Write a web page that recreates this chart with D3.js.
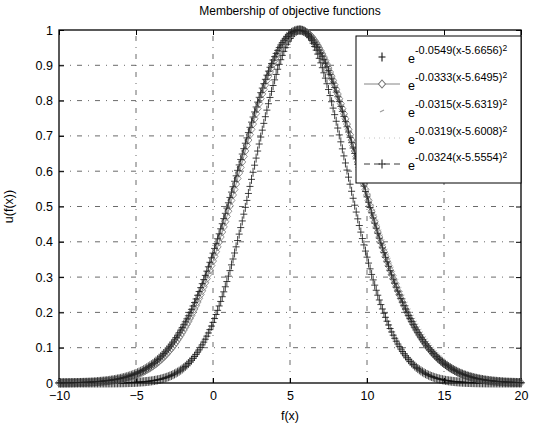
<!DOCTYPE html>
<html>
<head>
<meta charset="utf-8">
<script src="https://cdn.jsdelivr.net/npm/d3@7"></script>
<style>
  body { margin: 0; background: #fff; }
  text { font-family: "Liberation Sans", Arial, sans-serif; }
</style>
</head>
<body>
<div id="chart"></div>
<script>
// legend coefficients: y = exp(-a (x - b)^2)
const rates = [0.0549, 0.0333, 0.0315, 0.0319, 0.0324];
const centers = [5.6656, 5.6495, 5.6319, 5.6008, 5.5554];
const rateLabels = ["-0.0549", "-0.0333", "-0.0315", "-0.0319", "-0.0324"];
const centerLabels = ["5.6656", "5.6495", "5.6319", "5.6008", "5.5554"];
const xTicks = [-10, -5, 0, 5, 10, 15, 20];
const yTicks = [0, 0.1, 0.2, 0.3, 0.4, 0.5, 0.6, 0.7, 0.8, 0.9, 1];
const xs = d3.range(-10, 20.001, 0.1);

const width = 535, height = 426;
const margin = {top: 30, right: 14, bottom: 43, left: 59};

const svg = d3.select("#chart").append("svg")
    .attr("width", width)
    .attr("height", height);

const x = d3.scaleLinear().domain([-10, 20]).range([margin.left, width - margin.right]);
const y = d3.scaleLinear().domain([0, 1]).range([height - margin.bottom, margin.top]);

// grid
const gridDash = "5,6,1,6";
svg.append("g").selectAll("line").data(xTicks.slice(1, -1)).join("line")
    .attr("x1", d => x(d)).attr("x2", d => x(d))
    .attr("y1", y(0)).attr("y2", y(1))
    .attr("stroke", "#444").attr("stroke-width", 0.8).attr("stroke-dasharray", gridDash);
svg.append("g").selectAll("line").data(yTicks.slice(1, -1)).join("line")
    .attr("y1", d => y(d)).attr("y2", d => y(d))
    .attr("x1", x(-10)).attr("x2", x(20))
    .attr("stroke", "#444").attr("stroke-width", 0.8).attr("stroke-dasharray", gridDash);

// axes with inward ticks
svg.append("g")
    .attr("transform", `translate(0,${y(0)})`)
    .call(d3.axisBottom(x).tickValues(xTicks).tickSize(-5).tickPadding(8))
    .call(g => g.select(".domain").remove())
    .call(g => g.selectAll("text").attr("font-size", 12.5).attr("fill", "#000"));
svg.append("g")
    .attr("transform", `translate(${x(-10)},0)`)
    .call(d3.axisLeft(y).tickValues(yTicks).tickSize(-5).tickPadding(6).tickFormat(d3.format("~g")))
    .call(g => g.select(".domain").remove())
    .call(g => g.selectAll("text").attr("font-size", 12.5).attr("fill", "#000"));
svg.append("g")
    .attr("transform", `translate(0,${y(1)})`)
    .call(d3.axisTop(x).tickValues(xTicks).tickSize(-5).tickFormat(""))
    .call(g => g.select(".domain").remove());
svg.append("g")
    .attr("transform", `translate(${x(20)},0)`)
    .call(d3.axisRight(y).tickValues(yTicks).tickSize(-5).tickFormat(""))
    .call(g => g.select(".domain").remove());

svg.append("rect")
    .attr("x", x(-10)).attr("y", y(1))
    .attr("width", x(20) - x(-10)).attr("height", y(0) - y(1))
    .attr("fill", "none").attr("stroke", "#000").attr("stroke-width", 1.3);

// series
const series = rates.map((a, i) => xs.map(v => [v, Math.exp(-a * (v - centers[i]) ** 2)]));
const line = d3.line().x(d => x(d[0])).y(d => y(d[1]));
const plus = "M-3.5,0h7M0,-4.5v9";
const diamond = "M0,-4L3.5,0L0,4L-3.5,0Z";
const tick = "M-2,1L2,-1";

const styles = [
  {line: null, marker: plus, color: "#111", width: 0.8},
  {line: "", marker: diamond, color: "#777", width: 0.8},
  {line: null, marker: tick, color: "#999", width: 0.8},
  {line: "1,4", marker: null, color: "#bbb", width: 0.6},
  {line: "6,4", marker: plus, color: "#222", width: 0.8}
];

const plot = svg.append("g");
series.forEach((s, i) => {
  const st = styles[i];
  if (st.line !== null) {
    plot.append("path").datum(s)
        .attr("d", line)
        .attr("fill", "none").attr("stroke", st.color).attr("stroke-width", st.width)
        .attr("stroke-dasharray", st.line || null);
  }
  if (st.marker) {
    plot.append("g").selectAll("path").data(s).join("path")
        .attr("transform", d => `translate(${x(d[0])},${y(d[1])})`)
        .attr("d", st.marker)
        .attr("fill", "none").attr("stroke", st.color).attr("stroke-width", st.width);
  }
});

// title and labels
svg.append("text")
    .attr("x", (x(-10) + x(20)) / 2).attr("y", 15)
    .attr("text-anchor", "middle").attr("font-size", 12)
    .text("Membership of objective functions");
svg.append("text")
    .attr("x", (x(-10) + x(20)) / 2).attr("y", 420)
    .attr("text-anchor", "middle").attr("font-size", 12.5)
    .text("f(x)");
svg.append("text")
    .attr("transform", `translate(13,${(y(0) + y(1)) / 2}) rotate(-90)`)
    .attr("text-anchor", "middle").attr("font-size", 12.5)
    .text("u(f(x))");

// legend
const lg = svg.append("g");
lg.append("rect")
    .attr("x", 356).attr("y", 36).attr("width", 165).attr("height", 147)
    .attr("fill", "#fff").attr("stroke", "#000").attr("stroke-width", 1);
const rowY = [57, 84, 111, 138, 164];
rates.forEach((a, i) => {
  const st = styles[i];
  const ry = rowY[i];
  if (st.line !== null) {
    lg.append("line")
        .attr("x1", 364).attr("x2", 400).attr("y1", ry).attr("y2", ry)
        .attr("stroke", st.color).attr("stroke-width", 0.9)
        .attr("stroke-dasharray", st.line || null);
  }
  if (st.marker) {
    lg.append("path").attr("transform", `translate(382,${ry})`)
        .attr("d", st.marker).attr("fill", "#fff")
        .attr("stroke", st.color).attr("stroke-width", 1.1);
  }
  const t = lg.append("text").attr("x", 408).attr("y", ry + 6).attr("font-size", 12.5);
  t.append("tspan").text("e");
  t.append("tspan").attr("dy", -9).attr("font-size", 11)
      .text(`${rateLabels[i]}(x-${centerLabels[i]})`);
  t.append("tspan").attr("dy", -3).attr("font-size", 8.5).text("2");
});
</script>
</body>
</html>
